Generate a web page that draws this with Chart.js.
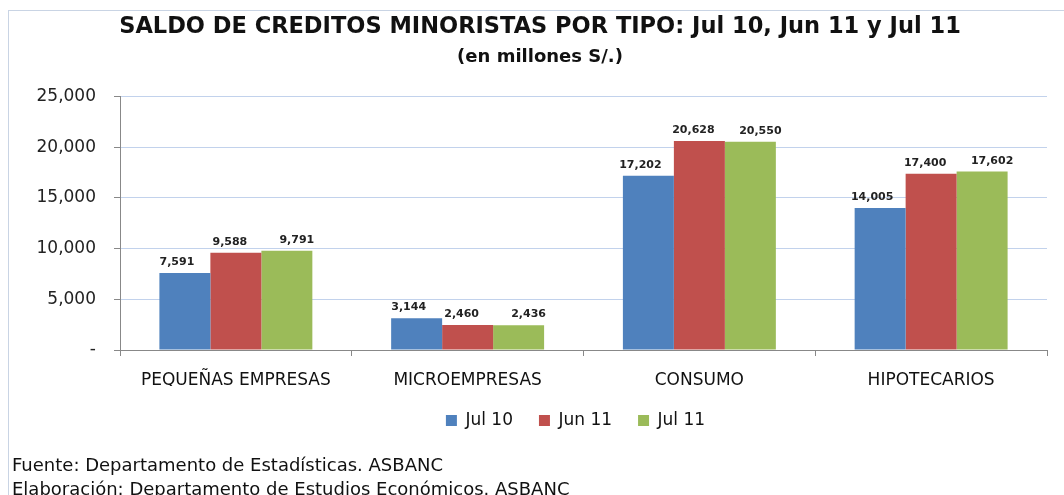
<!DOCTYPE html>
<html>
<head>
<meta charset="utf-8">
<script src="https://cdn.jsdelivr.net/npm/chart.js@4.4.0/dist/chart.umd.min.js"></script>
<style>
  html, body { margin: 0; padding: 0; background: #fff; overflow: hidden; }
  #wrap { position: relative; width: 1064px; height: 495px; }
  #frame { position: absolute; left: 8px; top: 10px; width: 1100px; height: 600px; border: 1px solid #c9d4e4; }
  #cv { position: absolute; left: 0; top: 0; }
  .foot { position: absolute; left: 12px; font-family: "DejaVu Sans", sans-serif; font-size: 18px; color: #111; }
</style>
</head>
<body>
<div id="wrap">
  <div id="frame"></div>
  <canvas id="cv" width="1064" height="495"></canvas>
  <div class="foot" style="top:454px">Fuente: Departamento de Estadísticas. ASBANC</div>
  <div class="foot" style="top:478px">Elaboración: Departamento de Estudios Económicos. ASBANC</div>
</div>
<script>
// data
var categories = ['PEQUEÑAS EMPRESAS', 'MICROEMPRESAS', 'CONSUMO', 'HIPOTECARIOS'];
var seriesNames = ['Jul 10', 'Jun 11', 'Jul 11'];
var jul10 = [7591, 3144, 17202, 14005];
var jun11 = [9588, 2460, 20628, 17400];
var jul11 = [9791, 2436, 20550, 17602];
var yTicks = [0, 5000, 10000, 15000, 20000, 25000];

var colors = ['#4f81bd', '#c0504d', '#9bbb59'];
// labels in the original sit a bit off the bar centre
var labelShift = [-8, -6, 10];

function fmt(v) {
    return v.toLocaleString('en-US');
}

// draws the value over each bar
var valueLabels = {
    id: 'valueLabels',
    afterLayout: function (chart) {
        // legend in the original sits a little left of the plot centre
        chart.legend.left -= 8;
        chart.legend.right -= 8;
    },
    afterDatasetsDraw: function (chart) {
        var ctx = chart.ctx;
        ctx.save();
        ctx.font = 'bold 11px "DejaVu Sans"';
        ctx.fillStyle = '#222';
        ctx.textAlign = 'center';
        ctx.textBaseline = 'alphabetic';
        chart.data.datasets.forEach(function (ds, i) {
            chart.getDatasetMeta(i).data.forEach(function (bar, j) {
                ctx.fillText(fmt(ds.data[j]), bar.x + labelShift[i], bar.y - 8);
            });
        });
        ctx.restore();
    }
};

var ctx = document.getElementById('cv').getContext('2d');
var chart = new Chart(ctx, {
    type: 'bar',
    data: {
        labels: categories,
        datasets: [
            { label: seriesNames[0], data: jul10, backgroundColor: colors[0] },
            { label: seriesNames[1], data: jun11, backgroundColor: colors[1] },
            { label: seriesNames[2], data: jul11, backgroundColor: colors[2] }
        ]
    },
    options: {
        responsive: false,
        animation: false,
        categoryPercentage: 0.66,
        barPercentage: 1,
        layout: { padding: { left: 33, right: 17, top: 0, bottom: 56 } },
        plugins: {
            title: {
                display: true,
                text: 'SALDO DE CREDITOS MINORISTAS POR TIPO: Jul 10, Jun 11 y Jul 11',
                color: '#111',
                font: { family: 'DejaVu Sans', size: 22.5, weight: 'bold', lineHeight: 1.2 },
                padding: { top: 14, bottom: 2 }
            },
            subtitle: {
                display: true,
                text: '(en millones S/.)',
                color: '#111',
                font: { family: 'DejaVu Sans', size: 18, weight: 'bold', lineHeight: 1.2 },
                padding: { top: 4, bottom: 28 }
            },
            legend: {
                position: 'bottom',
                fullSize: false,
                labels: {
                    color: '#111',
                    font: { family: 'DejaVu Sans', size: 17 },
                    boxWidth: 11,
                    boxHeight: 11,
                    padding: 26
                }
            },
            tooltip: { enabled: false }
        },
        scales: {
            x: {
                grid: { drawOnChartArea: false, tickLength: 6, color: '#888' },
                border: { color: '#888' },
                ticks: { color: '#111', font: { family: 'DejaVu Sans', size: 17 }, padding: 14 },
                afterFit: function (s) { s.height = 36; }
            },
            y: {
                min: 0,
                max: 25000,
                afterBuildTicks: function (s) {
                    s.ticks = yTicks.map(function (v) { return { value: v }; });
                },
                grid: { color: '#c2d2ec', tickColor: '#888', tickLength: 6, drawTicks: true },
                border: { color: '#888' },
                ticks: {
                    color: '#222',
                    font: { family: 'DejaVu Sans', size: 17 },
                    padding: 18,
                    callback: function (v) { return v === 0 ? '-' : fmt(v); }
                },
                afterFit: function (s) { s.width = 87; }
            }
        }
    },
    plugins: [valueLabels]
});
</script>
</body>
</html>
